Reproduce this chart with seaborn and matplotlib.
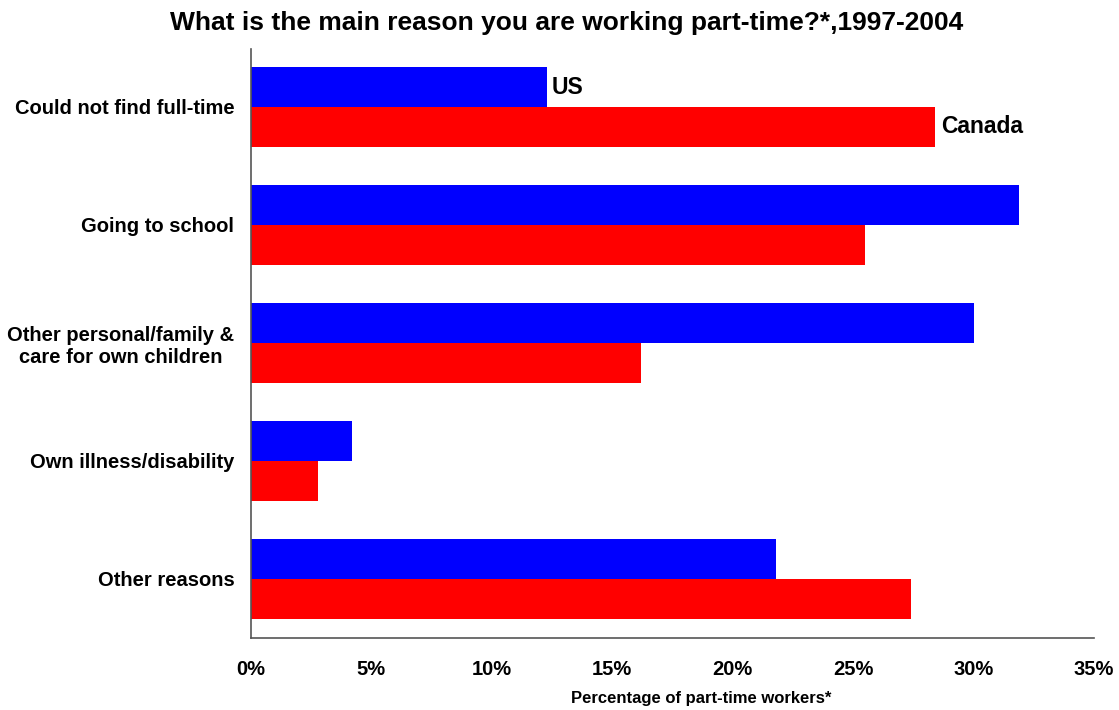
import matplotlib
matplotlib.use("Agg")
import matplotlib.pyplot as plt
import matplotlib.ticker as mticker
import seaborn as sns
import pandas as pd

reasons = [
    "Could not find full-time",
    "Going to school",
    "Other personal/family &\ncare for own children",
    "Own illness/disability",
    "Other reasons",
]
us_pct = [12.3, 31.9, 30.0, 4.2, 21.8]
canada_pct = [28.4, 25.5, 16.2, 2.8, 27.4]
countries = ["US", "Canada"]
x_ticks = [0, 5, 10, 15, 20, 25, 30, 35]

df = pd.DataFrame({
    "reason": reasons * 2,
    "pct": us_pct + canada_pct,
    "country": ["US"] * len(reasons) + ["Canada"] * len(reasons),
})

sns.set_style("white")
plt.rcParams["font.family"] = ["Liberation Sans", "DejaVu Sans"]
plt.rcParams["text.color"] = "black"
plt.rcParams["xtick.color"] = "black"
plt.rcParams["ytick.color"] = "black"
plt.rcParams["axes.labelcolor"] = "black"

fig = plt.figure(figsize=(11.19, 7.10), dpi=100)
ax = fig.add_axes([251 / 1119, 1 - 638 / 710, (1094 - 251) / 1119, (638 - 49) / 710])

sns.barplot(data=df, y="reason", x="pct", hue="country", hue_order=countries,
            palette={"US": "#0000FF", "Canada": "#FF0000"}, orient="h",
            width=0.68, saturation=1, linewidth=0, legend=False, ax=ax)

ax.set_xlim(0, 35)
ax.set_ylim(4.5, -0.49)
ax.set_xticks(x_ticks)
ax.xaxis.set_major_formatter(mticker.FuncFormatter(lambda v, p: f"{v:.0f}%"))
ax.tick_params(axis="x", length=0, pad=16, labelsize=14.5)
ax.tick_params(axis="y", length=0, pad=12, labelsize=14.5)
for lbl in ax.get_xticklabels() + ax.get_yticklabels():
    lbl.set_fontweight("bold")
for lbl in ax.get_yticklabels():
    lbl.set_multialignment("center")

ax.set_ylabel("")
ax.set_xlabel("Percentage of part-time workers*", fontsize=12, fontweight="bold")
ax.xaxis.set_label_coords(0.534, -0.09)

for side in ["top", "right"]:
    ax.spines[side].set_visible(False)
for side in ["left", "bottom"]:
    ax.spines[side].set_color("#555555")
    ax.spines[side].set_linewidth(1.2)

# Series names written at the end of the first pair of bars
ax.text(us_pct[0] + 0.2, -0.16, "US", fontsize=16.5, fontweight="bold", va="center", ha="left")
ax.text(canada_pct[0] + 0.25, 0.17, "Canada", fontsize=16.5, fontweight="bold", va="center", ha="left")

fig.suptitle("What is the main reason you are working part-time?*,1997-2004",
             fontsize=19, fontweight="bold", x=0.506, y=0.985)

fig.savefig("out.png", dpi=100)
